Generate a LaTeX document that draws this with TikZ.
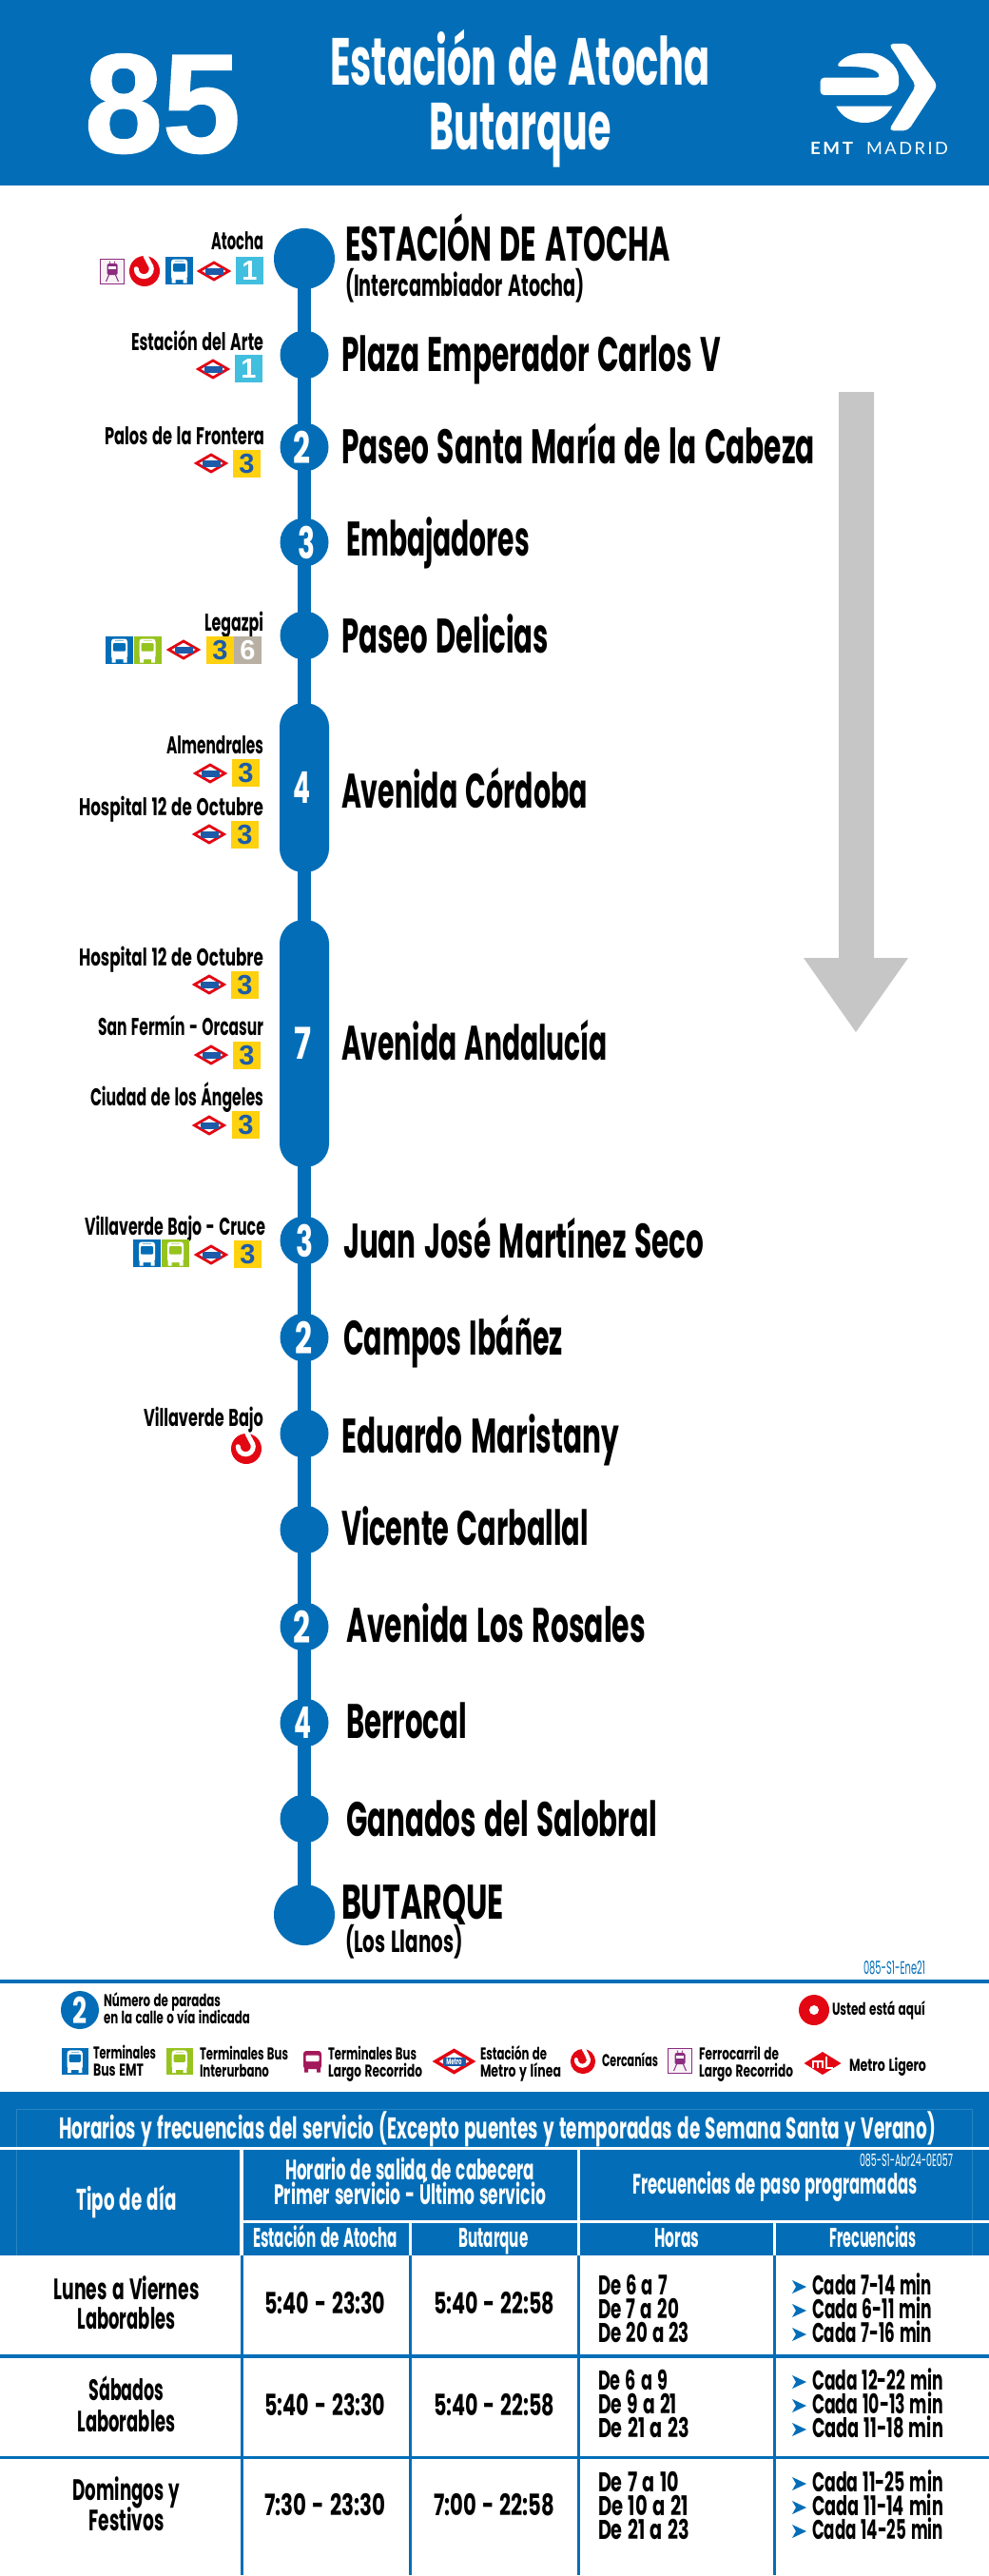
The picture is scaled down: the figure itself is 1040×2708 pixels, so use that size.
\documentclass[tikz,border=0pt]{standalone}
\usepackage{graphicx}
\usepackage{fontspec}
\setmainfont{Liberation Sans}
\newfontfamily\fut[FakeStretch=0.6,WordSpace=1.35]{Poppins}
\newfontfamily\arl{Liberation Sans}
\newfontfamily\arlg[FakeBold=1.2]{Liberation Sans Bold}
\newfontfamily\lat[LetterSpace=14]{Lato}
\newcommand\fz[1]{\fontsize{#1}{#1}\selectfont}
\newlength\fwl
\newcommand\fw[2]{\settowidth\fwl{#2}\pgfmathsetmacro\fwr{#1/\the\fwl}\scalebox{\fwr}[1]{#2}}
\definecolor{emt}{HTML}{036EB7}
\definecolor{lazul}{HTML}{42BEDF}
\definecolor{lamar}{HTML}{FFD10F}
\definecolor{lgris}{HTML}{B8B0A3}
\definecolor{verde}{HTML}{97C31F}
\definecolor{rojo}{HTML}{E30613}
\definecolor{purp}{HTML}{8B2C7E}
\definecolor{marron}{HTML}{A3195B}
\definecolor{flecha}{HTML}{C6C6C6}
\definecolor{mazul}{HTML}{1D5BA8}
\tikzset{
 tx/.style={inner sep=0pt,outer sep=0pt},
 stopname/.style={tx,anchor=base west,font=\fut\bfseries\fz{51}},
 stopsub/.style={tx,anchor=base west,font=\fut\bfseries\fz{32}},
 leftlab/.style={tx,anchor=base east,font=\fut\bfseries\fz{25.5}},
 stopc/.style={circle,fill=emt,minimum size=51pt,inner sep=0pt,text=white,font=\fut\bfseries\fz{46}},
 stopbig/.style={circle,fill=emt,minimum size=64pt,inner sep=0pt},
 stoppill/.style={rectangle,fill=emt,minimum width=52pt,rounded corners=25pt,inner sep=0pt,text=white,font=\fut\bfseries\fz{46}},
 leg/.style={tx,anchor=base west,font=\fut\bfseries\fz{18}},
 thw/.style={tx,anchor=base,text=white,font=\fut\bfseries\fz{29.5}},
 tdb/.style={tx,anchor=base,font=\fut\bfseries\fz{31}},
 tdl/.style={tx,anchor=base west,font=\fut\bfseries\fz{28.5}},
 wline/.style={white,line width=3.5pt},
 bline/.style={emt,line width=3.5pt},
 vline/.style={emt,line width=3pt},
}
\newcommand\metro[2]{\begin{scope}[shift={(#1,#2)}]
 \draw[rojo,line width=2.8pt,fill=white] (-15.5,0)--(0,-9)--(15.5,0)--(0,9)--cycle;
 \fill[mazul] (-9.5,-3.5) rectangle (9.5,3.5);
\end{scope}}
\newcommand\linea[5]{\begin{scope}[shift={(#1,#2)}]
 \fill[#3] (0,0) rectangle (29,29);
 \node[tx,text=#4,font=\arl\bfseries\fz{29}] at (14.5,14.5) {#5};
\end{scope}}
\newcommand\busic[4]{\begin{scope}[shift={(#1,#2)},scale=#4]
 \fill[#3] (0,0) rectangle (29,29);
 \fill[white,rounded corners=3pt] (6,2.5) rectangle (23,24);
 \fill[white] (6.5,23) rectangle (10.5,27.5) (18.5,23) rectangle (22.5,27.5);
 \fill[#3,rounded corners=1pt] (8,7) rectangle (21,15.5);
 \fill[#3!50] (10,3.8) rectangle (19,5);
\end{scope}}
\newcommand\busrojo[2]{\begin{scope}[shift={(#1,#2)}]
 \fill[marron,rounded corners=3pt] (0,0) rectangle (19,19);
 \fill[marron] (1,18) rectangle (5,22.5) (14,18) rectangle (18,22.5);
 \fill[white,rounded corners=1pt] (2.5,4.5) rectangle (16.5,11);
\end{scope}}
\newcommand\tren[2]{\begin{scope}[shift={(#1,#2)}]
 \draw[purp,line width=1.3pt,fill=purp!6] (0.6,0.6) rectangle (25.4,26.4);
 \draw[purp,line width=.7pt] (10,2.5)--(11,5) (16,2.5)--(15,5);
 \fill[purp,rounded corners=1.5pt] (7.5,5) rectangle (18.5,17);
 \fill[white] (9,7.5) rectangle (17,11);
 \draw[purp,line width=1pt] (9.5,17)--(6.5,24) (16.5,17)--(19.5,24);
\end{scope}}
\newcommand\cerc[3]{\begin{scope}[shift={(#1,#2)},scale=#3]
 \fill[rojo] (0,0) circle (16);
 \draw[white,line width=#3*5pt,line cap=round] (-8.7,-2.3) arc (180:-40:8) -- (1,-16);
\end{scope}}
\begin{document}
\begin{tikzpicture}[x=1pt,y=-1pt]
\useasboundingbox (0,0) rectangle (1040,2708);
% header
\fill[emt] (0,0) rectangle (1040,195);
\node (num) [tx,anchor=base,text=white,font=\arlg\fz{148}] at (171,160) {\fw{164}{85}};
\node (tit1) [tx,anchor=base,text=white,font=\fut\bfseries\fz{70}] at (547,90) {\fw{400}{Estación de Atocha}};
\node (tit2) [tx,anchor=base,text=white,font=\fut\bfseries\fz{70}] at (547,158) {\fw{191}{Butarque}};
% logo
\begin{scope}[shift={(840,30)},x=1/3*1pt,y=-1/3*1pt]
 \fill[white,rounded corners=5pt] (283,48)--(345,48)--(438,180)--(345,322)--(283,322)--(370,180)--cycle;
 \fill[white,rounded corners=4pt] (68,155) -- (258,155) .. controls (245,130) and (215,118) .. (118,120) .. controls (140,90) and (170,78) .. (210,78) .. controls (270,78) and (315,120) .. (315,165) .. controls (315,195) and (290,210) .. (258,210) -- (68,210) -- cycle;
 \fill[white] (118,245) -- (295,245) .. controls (275,280) and (245,297) .. (208,297) .. controls (170,297) and (135,280) .. (118,245) -- cycle;
\end{scope}
\node (emtb) [tx,anchor=base west,text=white,font=\lat\bfseries\fz{18}] at (852,163) {\fw{45}{EMT}};
\node (emtm) [tx,anchor=base west,text=white,font=\lat\fz{18}] at (911,163) {\fw{86}{MADRID}};
% arrow
\fill[flecha] (882,412) -- (919,412) -- (919,1007) -- (955,1007) -- (900,1085) -- (845,1007) -- (882,1007) -- cycle;
% stops
\node (s1) [stopbig] at (320,272) {};
\node (s15) [stopbig] at (320,2013) {};
\draw[emt,line width=14pt] (s1.center) -- (s15.center);
\node (s2) [stopc] at (320,373) {};
\node (s3) [stopc] at (320,470) {\kern-6pt\fw{18}{2}};
\node (s4) [stopc] at (320,570) {\kern4pt\fw{18}{3}};
\node (s5) [stopc] at (320,668) {};
\node (s6) [stoppill,minimum height=178pt] at (320,828) {\kern-6pt\fw{18}{4}};
\node (s7) [stoppill,minimum height=260pt] at (320,1097) {\kern-4pt\fw{18}{7}};
\node (s8) [stopc] at (320,1304) {\fw{18}{3}};
\node (s9) [stopc] at (320,1406) {\kern-2pt\fw{18}{2}};
\node (s10) [stopc] at (320,1507) {};
\node (s11) [stopc] at (320,1608) {};
\node (s12) [stopc] at (320,1710) {\kern-6pt\fw{18}{2}};
\node (s13) [stopc] at (320,1811) {\kern-3pt\fw{18}{4}};
\node (s14) [stopc] at (320,1912) {};
% stop names
\node (n1) [stopname] at (363,274.5) {\fw{342}{ESTACIÓN DE ATOCHA}};
\node (n1b) [stopsub] at (363,311) {\fw{252}{(Intercambiador Atocha)}};
\node (n2) [stopname] at (359,390) {\fw{399}{Plaza Emperador Carlos V}};
\node (n3) [stopname] at (359,487) {\fw{498}{Paseo Santa María de la Cabeza}};
\node (n4) [stopname] at (364,584) {\fw{193}{Embajadores}};
\node (n5) [stopname] at (359,686) {\fw{218}{Paseo Delicias}};
\node (n6) [stopname] at (359,849) {\fw{259}{Avenida Córdoba}};
\node (n7) [stopname] at (359,1114) {\fw{280}{Avenida Andalucía}};
\node (n8) [stopname] at (361,1322) {\fw{379}{Juan José Martínez Seco}};
\node (n9) [stopname] at (361,1424) {\fw{231}{Campos Ibáñez}};
\node (n10) [stopname] at (359,1527) {\fw{292}{Eduardo Maristany}};
\node (n11) [stopname] at (359,1624) {\fw{260}{Vicente Carballal}};
\node (n12) [stopname] at (364,1726) {\fw{315}{Avenida Los Rosales}};
\node (n13) [stopname] at (364,1827) {\fw{127}{Berrocal}};
\node (n14) [stopname] at (364,1930) {\fw{327}{Ganados del Salobral}};
\node (n15) [stopname] at (359,2017) {\fw{171}{BUTARQUE}};
\node (n15b) [stopsub] at (363,2052) {\fw{124}{(Los Llanos)}};
% left labels
\node (l1) [leftlab] at (277,262) {\fw{55}{Atocha}};
\node (l2) [leftlab] at (277,368) {\fw{139}{Estación del Arte}};
\node (l3) [leftlab] at (278,467) {\fw{168}{Palos de la Frontera}};
\node (l5) [leftlab] at (277,663) {\fw{62}{Legazpi}};
\node (l6) [leftlab] at (277,792) {\fw{102}{Almendrales}};
\node (l6b) [leftlab] at (277,857) {\fw{194}{Hospital 12 de Octubre}};
\node (l7) [leftlab] at (277,1015) {\fw{194}{Hospital 12 de Octubre}};
\node (l7b) [leftlab] at (277,1088) {\fw{174}{San Fermín - Orcasur}};
\node (l7c) [leftlab] at (277,1162) {\fw{182}{Ciudad de los Ángeles}};
\node (l8) [leftlab] at (279,1298) {\fw{190}{Villaverde Bajo - Cruce}};
\node (l10) [leftlab] at (277,1499) {\fw{126}{Villaverde Bajo}};
% icons
\tren{105}{272}\cerc{152}{285}{1}\busic{174}{270}{emt}{1}\metro{225}{285}\linea{248}{270}{lazul}{white}{1}
\metro{224}{388}\linea{247}{373}{lazul}{white}{1}
\metro{222}{487}\linea{245}{473}{lamar}{mazul}{3}
\busic{111}{669}{emt}{1}\busic{140.5}{669}{verde}{1}\metro{193}{683}\linea{217}{669}{lamar}{mazul}{3}\linea{246}{669}{lgris}{white}{6}
\metro{221}{813}\linea{244}{798}{lamar}{mazul}{3}
\metro{220}{877}\linea{243}{863}{lamar}{mazul}{3}
\metro{220}{1035}\linea{243}{1021}{lamar}{mazul}{3}
\metro{222}{1109}\linea{245}{1095}{lamar}{mazul}{3}
\metro{220}{1183}\linea{244}{1168}{lamar}{mazul}{3}
\busic{140}{1303}{emt}{1}\busic{170}{1303}{verde}{1}\metro{222}{1319}\linea{246}{1304}{lamar}{mazul}{3}
\cerc{259}{1523}{1}
% legend
\node (cod1) [tx,anchor=base west,text=emt,font=\fut\fz{19}] at (908,2075) {\fw{65}{085-S1-Ene21}};
\draw[emt,line width=3.5pt] (0,2083) -- (1040,2083);
\node (lg2) [circle,fill=emt,minimum size=40pt,inner sep=0pt,text=white,font=\fut\bfseries\fz{38}] at (84,2113) {\fw{15}{2}};
\node (lga) [leg] at (109,2109) {\fw{123}{Número de paradas}};
\node (lgb) [leg] at (109,2127) {\fw{154}{en la calle o vía indicada}};
\fill[rojo] (856,2113) circle (16);
\fill[white] (856,2113) circle (5);
\node (lgc) [leg] at (875,2118) {\fw{98}{Usted está aquí}};
\busic{65}{2153}{emt}{.95}
\node (le1) [leg] at (98,2164) {\fw{66}{Terminales}};
\node (le2) [leg] at (98,2182) {\fw{53}{Bus EMT}};
\busic{175}{2153}{verde}{.95}
\node (le3) [leg] at (210,2165) {\fw{93}{Terminales Bus}};
\node (le4) [leg] at (210,2183) {\fw{73}{Interurbano}};
\busrojo{319}{2156}
\node (le5) [leg] at (345,2165) {\fw{93}{Terminales Bus}};
\node (le6) [leg] at (345,2183) {\fw{99}{Largo Recorrido}};
\begin{scope}[shift={(477.5,2167)}]
 \draw[rojo,line width=3.5pt,fill=white] (-19.5,0)--(0,-11.5)--(19.5,0)--(0,11.5)--cycle;
 \fill[mazul] (-12,-4.5) rectangle (12,4.5);
 \node (mt) [tx,text=white,font=\fut\bfseries\fz{9}] at (0,0) {Metro};
\end{scope}
\node (le7) [leg] at (505,2165) {\fw{70}{Estación de}};
\node (le8) [leg] at (505,2183) {\fw{85}{Metro y línea}};
\cerc{613}{2167}{.82}
\node (le9) [leg] at (633,2172) {\fw{59}{Cercanías}};
\tren{702}{2153}
\node (le10) [leg] at (735,2165) {\fw{84}{Ferrocarril de}};
\node (le11) [leg] at (735,2183) {\fw{99}{Largo Recorrido}};
\begin{scope}[shift={(865,2169)}]
 \fill[rojo] (-19.5,0)--(0,-12)--(19.5,0)--(0,12)--cycle;
 \draw[white,line width=1.6pt] (-10,5)--(-10,-2)--(-5,-2)--(-5,5) (-5,-2)--(0,-2)--(0,5) (4,-7)--(4,5)--(11,5);
\end{scope}
\node (le12) [leg] at (893,2177) {\fw{81}{Metro Ligero}};
% table
\draw[flecha,line width=.6pt] (0,2199) -- (1040,2199);
\fill[emt] (0,2199) rectangle (1040,2371);
\draw[emt!85!white,line width=.6pt] (17,2371) -- (17,2217) -- (1022,2217) -- (1022,2371);
\draw[wline] (0,2258.5) -- (1040,2258.5);
\draw[wline] (254,2335.5) -- (1040,2335.5);
\draw[wline] (254,2258.5) -- (254,2371);
\draw[wline] (608.5,2258.5) -- (608.5,2371);
\draw[wline] (431.5,2335.5) -- (431.5,2371);
\draw[wline] (814.5,2335.5) -- (814.5,2371);
\foreach \vx in {254,431.5,608.5,814.5} \draw[vline] (\vx,2371) -- (\vx,2707);
\draw[bline] (0,2477) -- (1040,2477);
\draw[bline] (0,2583.5) -- (1040,2583.5);
\node (h0) [thw,font=\fut\bfseries\fz{31.5}] at (523,2248) {\fw{922}{Horarios y frecuencias del servicio (Excepto puentes y temporadas de Semana Santa y Verano)}};
\node (h1) [thw,font=\fut\bfseries\fz{31.5}] at (133,2323) {\fw{105}{Tipo de día}};
\node (h2) [thw] at (431,2291) {\fw{262}{Horario de salida de cabecera}};
\node (h3) [thw] at (431,2317) {\fw{286}{Primer servicio - Último servicio}};
\node (h4) [thw] at (815,2306) {\fw{299}{Frecuencias de paso programadas}};
\node (h5) [tx,anchor=base east,text=white,font=\fut\fz{18}] at (1002,2277) {\fw{98}{085-S1-Abr24-0E057}};
\node (h6) [thw,font=\fut\bfseries\fz{28.5}] at (342,2362) {\fw{152}{Estación de Atocha}};
\node (h7) [thw,font=\fut\bfseries\fz{28.5}] at (519,2362) {\fw{73}{Butarque}};
\node (h8) [thw,font=\fut\bfseries\fz{28.5}] at (712,2362) {\fw{47}{Horas}};
\node (h9) [thw,font=\fut\bfseries\fz{28.5}] at (918,2362) {\fw{91}{Frecuencias}};
\node (d1) [tdb] at (133,2417) {\fw{153}{Lunes a Viernes}};
\node (d1b) [tdb] at (133,2448) {\fw{103}{Laborables}};
\node (d2) [tdb] at (133,2523) {\fw{79}{Sábados}};
\node (d2b) [tdb] at (133,2556) {\fw{103}{Laborables}};
\node (d3) [tdb] at (133,2628) {\fw{113}{Domingos y}};
\node (d3b) [tdb] at (133,2660) {\fw{79}{Festivos}};
\node (a1) [tdb] at (342,2432) {\fw{127}{5:40 - 23:30}};
\node (b1) [tdb] at (519.5,2432) {\fw{127}{5:40 - 22:58}};
\node (a2) [tdb] at (342,2539) {\fw{127}{5:40 - 23:30}};
\node (b2) [tdb] at (519.5,2539) {\fw{127}{5:40 - 22:58}};
\node (a3) [tdb] at (342,2644) {\fw{127}{7:30 - 23:30}};
\node (b3) [tdb] at (519.5,2644) {\fw{127}{7:00 - 22:58}};
\foreach \nm/\yy/\hw/\hh/\fwd/\ff in {r1/2412/73/De 6 a 7/126/Cada 7-14 min,r2/2437/85/De 7 a 20/126/Cada 6-11 min,r3/2462/96/De 20 a 23/126/Cada 7-16 min,r4/2512/73/De 6 a 9/138/Cada 12-22 min,r5/2537/83/De 9 a 21/138/Cada 10-13 min,r6/2562/96/De 21 a 23/138/Cada 11-18 min,r7/2619/85/De 7 a 10/138/Cada 11-25 min,r8/2644/95/De 10 a 21/138/Cada 11-14 min,r9/2669/96/De 21 a 23/138/Cada 14-25 min}{
 \node (\nm h) [tdl] at (629,\yy) {\fw{\hw}{\hh}};
 \node (\nm f) [tdl] at (854,\yy) {\fw{\fwd}{\ff}};
 \fill[emt] (833,\yy-15) -- (848,\yy-8) -- (833,\yy-1) -- (837,\yy-8) -- cycle;
}
\end{tikzpicture}
\end{document}
